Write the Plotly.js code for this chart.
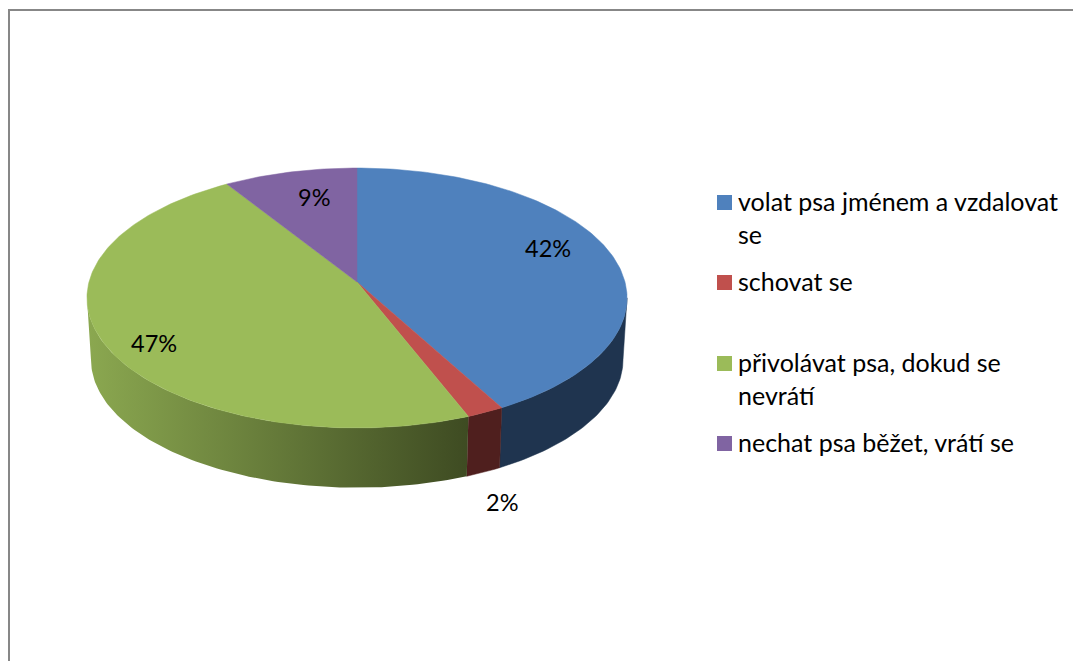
<!DOCTYPE html>
<html>
<head>
<meta charset="utf-8">
<script src="https://cdn.plot.ly/plotly-3.0.1.min.js"></script>
<style>html,body{margin:0;padding:0;background:#fff}#chart{width:1073px;height:661px}</style>
</head>
<body>
<div id="chart"></div>
<script>
// --- data ---
const categories = [
  "volat psa jménem a vzdalovat<br>se",
  "schovat se",
  "přivolávat psa, dokud se<br>nevrátí",
  "nechat psa běžet, vrátí se"
];
const values = [42, 2, 47, 9];
const topColors = ["#4F81BD", "#C0504D", "#9BBB59", "#8064A2"];
const wallColors = ["#1F344F", "#4F1F1E", null, null];
const greenWallGradient = ["#8BA850", "#3E4B22"];
// placement of the percent labels and key rows (stage pixels)
const labelX = [548, 502, 154, 314];
const labelY = [248, 502, 343, 197];
const keyRowY = [202.5, 282.5, 363.5, 443.5];
const keySwatchX = 724.5, keyTextX = 736, keyTextRise = 19;

// --- projection of the tilted disc (stage pixels) ---
const W = 1073, H = 661, FONT = "Lato, Carlito, sans-serif";
const disc = {cx: 357, cy: 282, rx: 268, ry: 128, k: 0.123};
const base = {cx: 357, cy: 344, rx: 264, ry: 126, k: 0.123};
function project(d, deg, r) {
  const t = deg * Math.PI / 180, u = r * Math.sin(t), v = -r * Math.cos(t), w = 1 - d.k * v;
  return [d.cx + d.rx * u / w, d.cy + d.ry * v / w];
}
function arc(d, a, b) {
  const pts = [], n = Math.max(2, Math.ceil(Math.abs(b - a)));
  for (let i = 0; i <= n; i++) pts.push(project(d, a + (b - a) * i / n, 1));
  return pts;
}
const total = values.reduce((s, v) => s + v, 0);
let acc = 0;
const slices = values.map(v => { const a = acc; acc += v; return [a / total * 360, acc / total * 360]; });
const RIGHT = 97, LEFT = 263;  // silhouette angles of the disc

const traces = [];
// side walls first
slices.forEach((s, i) => {
  const a = Math.max(s[0], RIGHT), b = Math.min(s[1], LEFT);
  if (b <= a) return;
  const pts = arc(disc, a, b).concat(arc(base, b, a));
  pts.push(pts[0]);
  const tr = {
    x: pts.map(p => p[0]), y: pts.map(p => p[1]), mode: "lines", fill: "toself",
    showlegend: false, hoverinfo: "skip",
    line: {width: 0.5, color: wallColors[i] || greenWallGradient[1]}
  };
  if (wallColors[i]) tr.fillcolor = wallColors[i];
  else {
    tr.line = {width: 0};
    tr.fillgradient = {type: "horizontal", colorscale: [[0, greenWallGradient[0]], [1, greenWallGradient[1]]]};
  }
  traces.push(tr);
});
// top faces
slices.forEach((s, i) => {
  const pts = [[disc.cx, disc.cy]].concat(arc(disc, s[0], s[1]));
  pts.push(pts[0]);
  traces.push({
    x: pts.map(p => p[0]), y: pts.map(p => p[1]), mode: "lines", fill: "toself",
    fillcolor: topColors[i], line: {width: 0.5, color: topColors[i]},
    showlegend: false, hoveron: "fills",
    text: categories[i].replace("<br>", " ") + ": " + values[i] + " %", hoverinfo: "text"
  });
});
// key swatches
traces.push({
  x: categories.map(() => keySwatchX), y: keyRowY, mode: "markers", showlegend: false, hoverinfo: "skip",
  marker: {symbol: "square", size: 15, color: topColors, line: {width: 0}}
});

const percentNotes = values.map((v, i) => ({
  x: labelX[i], y: labelY[i], xref: "x", yref: "y", text: v + "%", showarrow: false,
  xanchor: "center", yanchor: "middle", font: {family: FONT, size: 23.5, color: "#000"}
}));
const keyNotes = categories.map((c, i) => ({
  x: keyTextX, y: keyRowY[i] - keyTextRise, xref: "x", yref: "y", text: c, showarrow: false, align: "left",
  xanchor: "left", yanchor: "top", font: {family: FONT, size: 25, color: "#000"}
}));

const layout = {
  width: W, height: H, margin: {l: 0, r: 0, t: 0, b: 0},
  paper_bgcolor: "#fff", plot_bgcolor: "#fff",
  font: {family: FONT, size: 23, color: "#000"},
  xaxis: {range: [0, W], visible: false, fixedrange: true},
  yaxis: {range: [H, 0], visible: false, fixedrange: true},
  showlegend: false,
  shapes: [{type: "rect", xref: "x", yref: "y", x0: 9, y0: 10, x1: W + 20, y1: H + 20,
            line: {color: "#878787", width: 2}, layer: "below"}],
  annotations: percentNotes.concat(keyNotes)
};
Plotly.newPlot("chart", traces, layout, {displayModeBar: false});
</script>
</body>
</html>
